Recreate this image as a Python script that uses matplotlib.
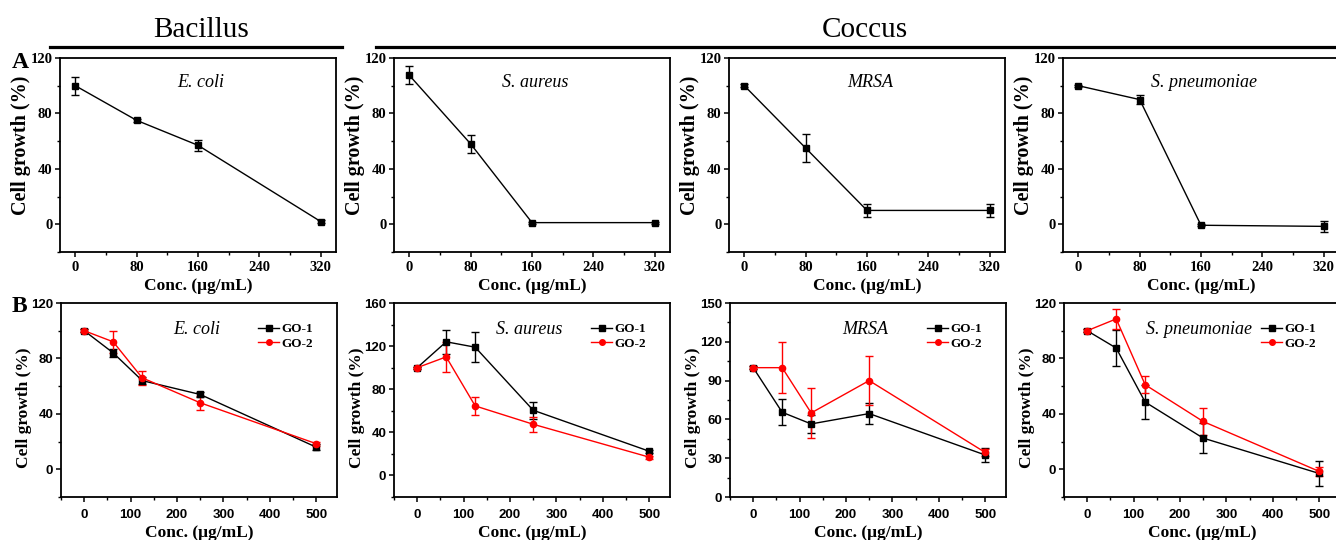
import matplotlib
matplotlib.use('Agg')
import matplotlib.pyplot as plt
from matplotlib.ticker import MultipleLocator
from matplotlib.lines import Line2D

SERIF = 'Liberation Serif'
SANS = 'Liberation Sans'
plt.rcParams['font.family'] = SERIF

# 上排：单一材料
top_x = [0, 80, 160, 320]
top_names = ['E. coli', 'S. aureus', 'MRSA', 'S. pneumoniae']
top_vals = [
    [100, 75, 57, 2],
    [107.5, 58, 1.2, 1.2],
    [100, 55, 10, 10],
    [100, 90, -0.7, -1.5],
]
top_errs = [
    [6.5, 1, 4, 1],
    [6.5, 6.5, 0.8, 0.8],
    [1, 10, 4.5, 5],
    [0.8, 3.5, 0.8, 4],
]

# 下排：GO-1 / GO-2
bot_x = [0, 62.5, 125, 250, 500]
bot_names = ['E. coli', 'S. aureus', 'MRSA', 'S. pneumoniae']
go1_vals = [
    [100, 84, 64, 54, 16],
    [100, 124, 119, 60.5, 22.5],
    [100, 65.5, 56.5, 64.5, 32.5],
    [100, 87.5, 48.5, 22.5, -3],
]
go1_errs = [
    [1, 3, 2.5, 1.5, 2],
    [1, 11, 14, 8, 1.5],
    [1, 10, 7, 8, 5.5],
    [1, 13, 12, 11, 9],
]
go2_vals = [
    [100, 92, 66, 48, 18.5],
    [100, 110, 64.5, 47.5, 17],
    [100, 100, 65, 90, 34.5],
    [100, 108.5, 61, 34.5, -1.5],
]
go2_errs = [
    [1, 8, 5, 5, 1.5],
    [1, 14, 8, 7, 1.5],
    [1, 19.5, 19, 19, 3],
    [1, 7.5, 6, 9.5, 3],
]
bot_ylims = [(-20, 120), (-20, 160), (0, 150), (-20, 120)]
bot_ysteps = [40, 40, 30, 40]

W, H = 1336, 540
fig = plt.figure(figsize=(W / 100, H / 100), dpi=100)

lefts = [60, 394, 729, 1063]
aw, ah = 276, 194


def px_axes(left, top):
    return fig.add_axes([left / W, 1 - (top + ah) / H, aw / W, ah / H])


def style(ax, tickfont, tsize, ysize, xpad, ylab_y):
    for s in ax.spines.values():
        s.set_linewidth(1.3)
    ax.tick_params(which='major', direction='out', length=3.5, width=1.1, pad=2,
                   labelsize=tsize, labelfontfamily=tickfont)
    ax.tick_params(axis='x', which='major', pad=xpad)
    ax.tick_params(which='minor', direction='out', length=2, width=1.0)
    for lab in ax.get_xticklabels() + ax.get_yticklabels():
        lab.set_fontweight('bold')
    ax.set_ylabel('Cell growth (%)', fontsize=ysize, fontweight='bold')
    ax.yaxis.set_label_coords(-0.105, ylab_y)
    ax.set_xlabel('Conc. (μg/mL)', fontsize=12.5, fontweight='bold', labelpad=3)


for i in range(4):
    ax = px_axes(lefts[i], 58)
    ax.errorbar(top_x, top_vals[i], yerr=top_errs[i], color='black', marker='s',
                markersize=4.5, lw=1.0, capsize=2.8, elinewidth=1.0, capthick=1.0)
    ax.set_xlim(-20, 340)
    ax.set_ylim(-20, 120)
    ax.set_xticks([0, 80, 160, 240, 320])
    ax.xaxis.set_minor_locator(MultipleLocator(40))
    ax.set_yticks([0, 40, 80, 120])
    ax.yaxis.set_minor_locator(MultipleLocator(20))
    ax.text(0.51, 0.875, top_names[i], transform=ax.transAxes, ha='center', va='center',
            fontsize=13, style='italic')
    style(ax, SERIF, 10.5, 14.5, 3, 0.55)

for i in range(4):
    ax = px_axes(lefts[i] + (1 if i in (0, 2, 3) else 0), 303)
    ax.errorbar(bot_x, go1_vals[i], yerr=go1_errs[i], color='black', marker='s',
                markersize=4.5, lw=1.0, capsize=2.8, elinewidth=1.0, capthick=1.0, label='GO-1')
    ax.errorbar(bot_x, go2_vals[i], yerr=go2_errs[i], color='#ff0000', marker='o',
                markersize=4.5, lw=1.0, capsize=2.8, elinewidth=1.0, capthick=1.0, label='GO-2')
    ax.set_xlim(-50, 545)
    ax.xaxis.set_major_locator(MultipleLocator(100))
    ax.xaxis.set_minor_locator(MultipleLocator(50))
    ax.yaxis.set_major_locator(MultipleLocator(bot_ysteps[i]))
    ax.yaxis.set_minor_locator(MultipleLocator(bot_ysteps[i] / 2))
    ax.set_ylim(*bot_ylims[i])
    ax.text(0.49, 0.865, bot_names[i], transform=ax.transAxes, ha='center', va='center',
            fontsize=13, style='italic')
    handles = [Line2D([], [], color='black', marker='s', markersize=4, lw=1.0),
               Line2D([], [], color='#ff0000', marker='o', markersize=4, lw=1.0)]
    ax.legend(handles, ['GO-1', 'GO-2'], loc='upper left', bbox_to_anchor=(0.69, 0.93),
              frameon=False, borderpad=0, labelspacing=0.15, handlelength=1.6,
              handletextpad=0.2, prop={'family': SERIF, 'weight': 'bold', 'size': 9.5})
    style(ax, SANS, 9.5, 12.5, 5, 0.46)

# 分组标题与横线
fig.text(201 / W, 1 - 30 / H, 'Bacillus', ha='center', va='center', fontsize=21)
fig.text(865 / W, 1 - 30 / H, 'Coccus', ha='center', va='center', fontsize=21)
fig.add_artist(Line2D([50 / W, 342 / W], [1 - 47 / H] * 2, color='black', lw=2.3))
fig.add_artist(Line2D([376 / W, 1.0], [1 - 47 / H] * 2, color='black', lw=2.3))
fig.text(20 / W, 1 - 62 / H, 'A', ha='center', va='center', fontsize=17, fontweight='bold')
fig.text(19 / W, 1 - 307 / H, 'B', ha='center', va='center', fontsize=17, fontweight='bold')

fig.savefig('out.png', dpi=100)
